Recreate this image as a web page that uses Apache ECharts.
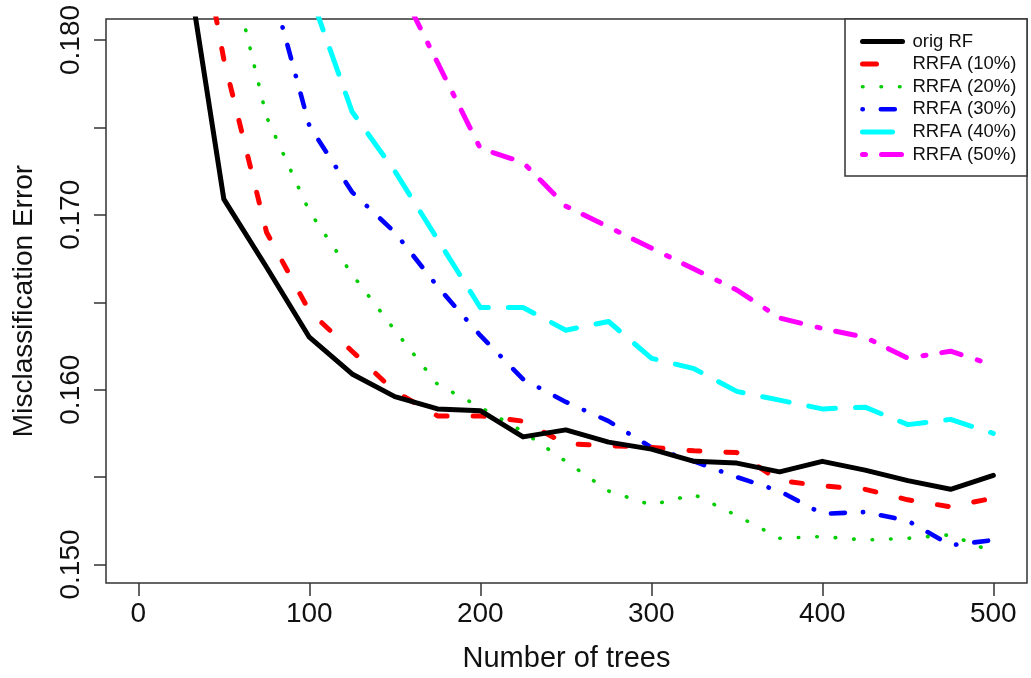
<!DOCTYPE html>
<html>
<head>
<meta charset="utf-8">
<script src="https://cdn.jsdelivr.net/npm/echarts@6/dist/echarts.min.js"></script>
<style>
html,body{margin:0;padding:0;background:#fff;}
#c{width:1031px;height:678px;}
</style>
</head>
<body>
<div id="c"></div>
<script>
// ---- data ----
var trees = [25,50,75,100,125,150,175,200,225,250,275,300,325,350,375,400,425,450,475,500];
var seriesNames = ['orig RF','RRFA (10%)','RRFA (20%)','RRFA (30%)','RRFA (40%)','RRFA (50%)'];
var origRF = [0.1866,0.1709,0.1670,0.1630,0.1609,0.1596,0.1589,0.1588,0.1573,0.1577,0.1570,0.1566,0.1559,0.1558,0.1553,0.1559,0.1554,0.1548,0.1543,0.1551];
var rrfa10 = [0.1920,0.1789,0.1690,0.1645,0.1622,0.1599,0.1585,0.1585,0.1582,0.1569,0.1568,0.1567,0.1565,0.1564,0.1548,0.1545,0.1543,0.1537,0.1533,0.1538];
var rrfa20 = [0.1960,0.1858,0.1756,0.1702,0.1666,0.1634,0.1603,0.1590,0.1576,0.1559,0.1542,0.1534,0.1540,0.1528,0.1515,0.1516,0.1514,0.1515,0.1517,0.1507];
var rrfa30 = [0.2000,0.1930,0.1841,0.1751,0.1713,0.1690,0.1659,0.1631,0.1606,0.1593,0.1582,0.1567,0.1559,0.1550,0.1542,0.1529,0.1530,0.1525,0.1511,0.1514];
var rrfa40 = [0.2050,0.1980,0.1900,0.1828,0.1759,0.1725,0.1686,0.1647,0.1647,0.1634,0.1639,0.1618,0.1612,0.1599,0.1594,0.1589,0.1590,0.1580,0.1583,0.1575];
var rrfa50 = [0.2150,0.2050,0.1960,0.1900,0.1860,0.1836,0.1787,0.1738,0.1730,0.1705,0.1693,0.1681,0.1669,0.1657,0.1641,0.1635,0.1630,0.1618,0.1622,0.1614];
var xTicks = [0,100,200,300,400,500];
var yTicks = [0.150,0.155,0.160,0.165,0.170,0.175,0.180];
var yLabels = [0.150,0.160,0.170,0.180];

// ---- styles ----
var allValues = [origRF, rrfa10, rrfa20, rrfa30, rrfa40, rrfa50];
var colors = ['#000000','#FF0000','#00CD00','#0000FF','#00FFFF','#FF00FF'];
var widths = [5, 5, 3.6, 4.6, 5, 5];
var dashes = ['solid', [11,26], [0.5,18], [0.3,18,14,18], [27,20], [3,16,20,17]];
var legendDashes = ['solid', [14,40], [0.5,18], [0.3,18,14,18], [30,20], [3,16,20,17]];
var FONT = '"Liberation Sans", Arial, Helvetica, sans-serif';

function pairs(v){ return trees.map(function(t,i){ return [t, v[i]]; }); }

var series = seriesNames.map(function(n,i){
  return {
    name: n, type: 'line', data: pairs(allValues[i]),
    symbol: 'none', showSymbol: false, clip: true,
    color: colors[i],
    lineStyle: { color: colors[i], width: widths[i], type: dashes[i], cap: 'round', join: 'round' },
    z: 10 - i
  };
});

var legendData = seriesNames.map(function(n,i){
  return {
    name: n,
    itemStyle: { opacity: 0, borderWidth: 0 },
    lineStyle: { color: colors[i], width: widths[i], type: legendDashes[i], cap: 'round', opacity: 1 }
  };
});

var chart = echarts.init(document.getElementById('c'), null, {renderer:'canvas'});
chart.setOption({
  animation: false,
  backgroundColor: '#ffffff',
  textStyle: { fontFamily: FONT },
  grid: { left: 106, top: 19, right: 4, bottom: 95, show: true, borderColor: '#333', borderWidth: 1.5, backgroundColor: 'transparent' },
  xAxis: {
    type: 'value', min: -18.9, max: 519.7,
    name: 'Number of trees', nameLocation: 'middle', nameGap: 61,
    nameTextStyle: { fontSize: 29, color: '#111', fontFamily: FONT },
    axisLine: { show: false, onZero: false },
    splitLine: { show: false },
    axisTick: { show: true, inside: false, length: 13, customValues: xTicks, lineStyle: { color: '#333', width: 1.5 } },
    axisLabel: { customValues: xTicks, margin: 17, fontSize: 28, color: '#111', fontFamily: FONT }
  },
  yAxis: {
    type: 'value', min: 0.148942, max: 0.181201,
    name: 'Misclassification Error', nameLocation: 'middle', nameGap: 68, nameRotate: 90,
    nameTextStyle: { fontSize: 28, color: '#111', fontFamily: FONT },
    axisLine: { show: false, onZero: false },
    splitLine: { show: false },
    axisTick: { show: true, inside: false, length: 12, customValues: yTicks, lineStyle: { color: '#333', width: 1.5 } },
    axisLabel: { customValues: yLabels, rotate: 90, margin: 21, fontSize: 28, color: '#111', fontFamily: FONT,
      formatter: function(v){ return Number(v).toFixed(3); } }
  },
  legend: {
    data: legendData, orient: 'vertical', left: 860, top: 32, z: 100,
    itemWidth: 40, itemHeight: 18, itemGap: 3.6,
    padding: 0,
    itemStyle: { opacity: 0, borderWidth: 0 },
    textStyle: { fontSize: 18.5, color: '#111', fontFamily: FONT, padding: [0,0,0,5] }
  },
  graphic: [{
    type: 'rect', shape: { x: 845, y: 19, width: 182, height: 157 },
    style: { fill: '#fff', stroke: '#333', lineWidth: 1.5 }, z: 1, silent: true
  }],
  series: series
});
</script>
</body>
</html>
